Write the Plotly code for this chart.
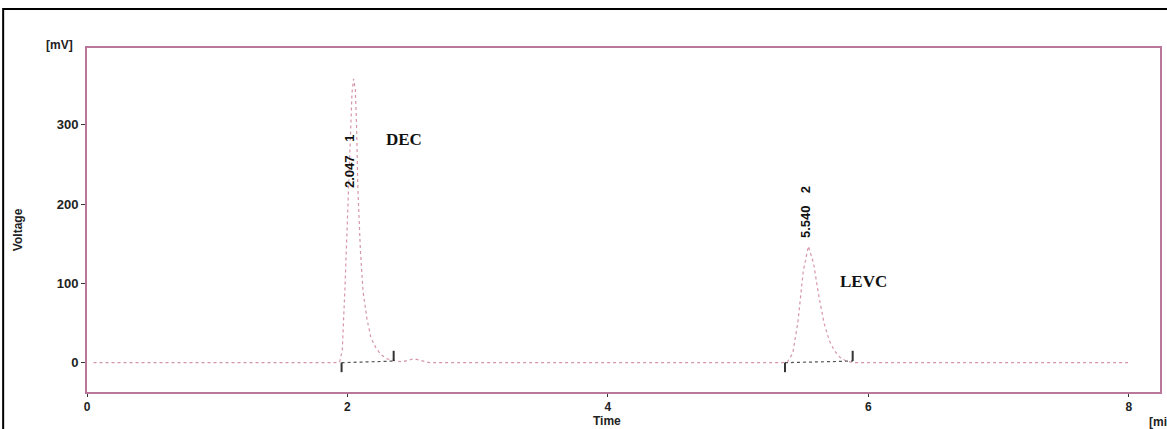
import plotly.graph_objects as go

# Chromatogram trace (time in min, voltage in mV)
time_min = [0.05, 0.5, 1.0, 1.5, 1.90, 1.94, 1.96, 1.98, 2.00, 2.02, 2.035, 2.047, 2.06, 2.07, 2.08,
            2.10, 2.12, 2.15, 2.18, 2.22, 2.26, 2.30, 2.34, 2.38, 2.42, 2.46, 2.51, 2.56, 2.63,
            3.0, 4.0, 5.0, 5.34, 5.38, 5.42, 5.46, 5.50, 5.54, 5.58, 5.62, 5.66, 5.70, 5.74,
            5.78, 5.82, 5.86, 5.90, 6.5, 7.0, 7.5, 8.0]
voltage_mv = [0, 0, 0, 0, 0, 1, 15, 90, 180, 280, 340, 358, 345, 300, 220,
              140, 90, 55, 32, 18, 10, 5, 3, 2, 1, 3, 5, 3, 0,
              0, 0, 0, 0, 1, 12, 52, 115, 147, 125, 84, 50, 28, 15,
              7, 3, 1, 0, 0, 0, 0, 0]

# Peak integration limits and labels
peak_start = [1.955, 5.36]
peak_end = [2.355, 5.88]
peak_rt = ["2.047", "5.540"]
peak_no = ["1", "2"]
peak_label_x = [2.015, 5.517]
peak_rt_y = [241, 178]
peak_no_y = [283, 218]
compound_names = ["DEC", "LEVC"]
compound_x = [2.437, 5.962]
compound_y = [281, 103]

x_ticks = [0, 2, 4, 6, 8]
y_ticks = [0, 100, 200, 300]

fig = go.Figure()

fig.add_trace(go.Scatter(
    x=time_min, y=voltage_mv, mode="lines",
    line=dict(color="#d596ab", width=1.2, dash="dot"),
    hoverinfo="skip", showlegend=False))

# integration baselines
for s, e in zip(peak_start, peak_end):
    fig.add_trace(go.Scatter(
        x=[s, e], y=[0, 2], mode="lines",
        line=dict(color="#555555", width=1.2, dash="dot"),
        hoverinfo="skip", showlegend=False))
    # start marker (below baseline), end marker (above baseline)
    fig.add_trace(go.Scatter(
        x=[s, s, None, e, e], y=[0, -12, None, 2, 15], mode="lines",
        line=dict(color="#333333", width=2),
        hoverinfo="skip", showlegend=False))

lab_font = dict(family="Liberation Sans Narrow, Liberation Sans, Arial", size=13, color="#111111")
annotations = []
for x, rt, ry, no, ny in zip(peak_label_x, peak_rt, peak_rt_y, peak_no, peak_no_y):
    annotations.append(dict(x=x, y=ry, xref="x", yref="y", text="<b>%s</b>" % rt, textangle=-90,
                            showarrow=False, font=lab_font))
    annotations.append(dict(x=x, y=ny, xref="x", yref="y", text="<b>%s</b>" % no, textangle=-90,
                            showarrow=False, font=lab_font))
for name, cx, cy in zip(compound_names, compound_x, compound_y):
    annotations.append(dict(x=cx, y=cy, xref="x", yref="y", text="<b>%s</b>" % name,
                            showarrow=False, font=dict(family="Liberation Serif, Times New Roman", size=17, color="#111111")))

axis_font = dict(family="Liberation Sans, Arial", size=12, color="#222222")
tick_font = dict(family="Liberation Sans, Arial", size=13, color="#222222")
annotations += [
    dict(x=(59 - 87) / 1075, y=(392 - 45) / 344, xref="paper", yref="paper", text="<b>[mV]</b>",
         showarrow=False, xanchor="center", yanchor="middle", font=axis_font),
    dict(x=(18 - 87) / 1075, y=(392 - 230) / 344, xref="paper", yref="paper", text="<b>Voltage</b>", textangle=-90,
         showarrow=False, xanchor="center", yanchor="middle", font=axis_font),
    dict(x=(608 - 87) / 1075, y=-(421 - 392) / 344, xref="paper", yref="paper", text="<b>Time</b>",
         showarrow=False, xanchor="center", yanchor="middle", font=axis_font),
    dict(x=(1149 - 87) / 1075, y=-(422 - 392) / 344, xref="paper", yref="paper", text="<b>[min]</b>",
         showarrow=False, xanchor="left", yanchor="middle", font=axis_font),
]

fig.update_layout(
    width=1167, height=429,
    margin=dict(l=87, r=5, t=48, b=37),
    paper_bgcolor="white", plot_bgcolor="white",
    annotations=annotations,
    shapes=[dict(type="rect", xref="paper", yref="paper",
                 x0=(3 - 87) / 1075, x1=1.02, y0=-0.2, y1=(392 - 9) / 344,
                 line=dict(color="black", width=2), layer="below")],
)
fig.update_xaxes(range=[0, 8.24], tickvals=x_ticks, ticktext=["<b>%d</b>" % v for v in x_ticks],
                 showgrid=False, zeroline=False, showline=True, mirror=True,
                 linecolor="#b7769a", linewidth=2, ticks="outside", ticklen=3,
                 tickcolor="#333333", tickfont=dict(family="Liberation Sans, Arial", size=12, color="#222222"))
fig.update_yaxes(range=[-37, 397], tickvals=y_ticks, ticktext=["<b>%d</b>" % v for v in y_ticks],
                 showgrid=False, zeroline=False, showline=True, mirror=True,
                 linecolor="#b7769a", linewidth=2, ticks="outside", ticklen=4,
                 tickcolor="#333333", tickfont=tick_font)

fig.write_html("out.html", config={"displayModeBar": False},
               post_script="document.body.style.margin='0';document.body.style.overflow='hidden';")
